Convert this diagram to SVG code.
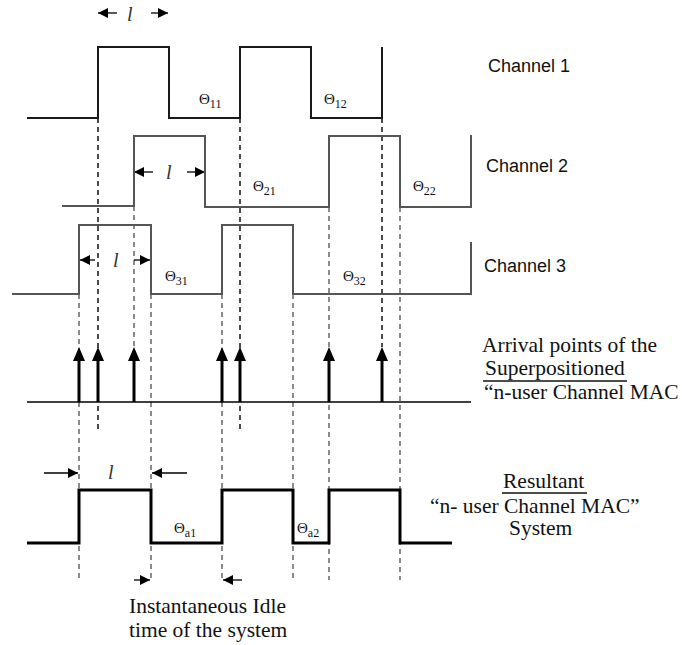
<svg xmlns="http://www.w3.org/2000/svg" width="682" height="645" viewBox="0 0 682 645">
<defs>
<style>
.sig1{fill:none;stroke:#1a1a1a;stroke-width:2}
.sig2{fill:none;stroke:#555;stroke-width:2}
.res{fill:none;stroke:#000;stroke-width:3}
.dk{fill:none;stroke:#111;stroke-width:1.5;stroke-dasharray:5 4}
.dg{fill:none;stroke:#666;stroke-width:1.5;stroke-dasharray:5 4}
.base{fill:none;stroke:#000;stroke-width:1.5}
.shaft{stroke:#000;stroke-width:3}
.ah{fill:#000}
.thin{stroke:#000;stroke-width:1.3}
.lab{font-family:"Liberation Sans",Arial,sans-serif;font-size:18px;fill:#111}
.ser{font-family:"Liberation Serif","Times New Roman",serif;font-size:21.5px;fill:#111}
.th{font-family:"Liberation Serif","Times New Roman",serif;font-size:15px;fill:#111}
.sub{font-size:12px}
.ell{font-family:"Liberation Serif","Times New Roman",serif;font-size:20px;font-style:italic;fill:#333}
</style>
<marker id="mh" viewBox="0 0 10 10" refX="10" refY="5" markerWidth="10" markerHeight="10" markerUnits="userSpaceOnUse" orient="auto">
<path d="M0,0 L10,5 L0,10 Z" fill="#000"/>
</marker>
</defs>
<rect width="682" height="645" fill="#fff"/>

<g id="connectors">
<path class="dk" d="M98,118 V433 M240,118 V433 M382,118 V347"/>
<path class="dg" d="M134,206 V347 M329,207 V580 M400,207 V580 M79,294 V580 M151,294 V580 M222,294 V580 M293,294 V580"/>
<g id="arrivals">
<line class="shaft" x1="79" y1="402" x2="79" y2="358"/>
<line class="shaft" x1="98" y1="402" x2="98" y2="358"/>
<line class="shaft" x1="134" y1="402" x2="134" y2="358"/>
<line class="shaft" x1="222" y1="402" x2="222" y2="358"/>
<line class="shaft" x1="240" y1="402" x2="240" y2="358"/>
<line class="shaft" x1="329" y1="402" x2="329" y2="358"/>
<line class="shaft" x1="382" y1="402" x2="382" y2="358"/>
<path class="ah" d="M79,347 l6,14 h-12 z M98,347 l6,14 h-12 z M134,347 l6,14 h-12 z M222,347 l6,14 h-12 z M240,347 l6,14 h-12 z M329,347 l6,14 h-12 z M382,347 l6,14 h-12 z"/>
</g>
<line class="thin" x1="117" y1="13" x2="98" y2="13" stroke-width="2" marker-end="url(#mh)"/>
<line class="thin" x1="151" y1="13" x2="168" y2="13" stroke-width="2" marker-end="url(#mh)"/>
<line class="thin" x1="153" y1="172" x2="134" y2="172" stroke-width="2" marker-end="url(#mh)"/>
<line class="thin" x1="187" y1="172" x2="205" y2="172" stroke-width="2" marker-end="url(#mh)"/>
<line class="thin" x1="95" y1="260" x2="80" y2="260" stroke-width="2" marker-end="url(#mh)"/>
<line class="thin" x1="134" y1="260" x2="150" y2="260" stroke-width="2" marker-end="url(#mh)"/>
<line class="thin" x1="44" y1="473" x2="78" y2="473" marker-end="url(#mh)"/>
<line class="thin" x1="187" y1="473" x2="152" y2="473" marker-end="url(#mh)"/>
<line class="thin" x1="134" y1="580" x2="150" y2="580" marker-end="url(#mh)"/>
<line class="thin" x1="242" y1="580" x2="223" y2="580" marker-end="url(#mh)"/>
</g>

<g id="channel1">
<path class="sig1" d="M27,118 H98 V47 H169 V118 H240 V47 H311 V118 H382 V47"/>
<text class="lab" x="488" y="72">Channel  1</text>
<text class="ell" x="127" y="21">l</text>
<text class="th" x="199" y="104">Θ<tspan class="sub" dy="4">11</tspan></text>
<text class="th" x="324" y="104">Θ<tspan class="sub" dy="4">12</tspan></text>
</g>

<g id="channel2">
<path class="sig2" d="M62,206 H134 V136 H205 V207 H329 V136 H400 V207 H471 V135"/>
<text class="lab" x="486" y="172">Channel  2</text>
<text class="ell" x="166" y="179">l</text>
<text class="th" x="253" y="191">Θ<tspan class="sub" dy="4">21</tspan></text>
<text class="th" x="413" y="191">Θ<tspan class="sub" dy="4">22</tspan></text>
</g>

<g id="channel3">
<path class="sig2" d="M12,294 H79 V225 H151 V294 H222 V225 H293 V294 H471 V242"/>
<text class="lab" x="484" y="272">Channel  3</text>
<text class="ell" x="113" y="267">l</text>
<text class="th" x="165" y="281">Θ<tspan class="sub" dy="4">31</tspan></text>
<text class="th" x="343" y="281">Θ<tspan class="sub" dy="4">32</tspan></text>
</g>

<g id="arrival-row">
<path class="base" d="M27,402 H471"/>
<text class="ser" x="482" y="352">Arrival points of the</text>
<text class="ser" x="485" y="375">Superpositioned</text>
<line x1="483" y1="381" x2="627" y2="381" stroke="#111" stroke-width="1.3"/>
<text class="ser" x="484" y="399">“n-user Channel MAC</text>
</g>

<g id="resultant">
<path class="res" d="M27,543 H79 V490 H151 V543 H222 V490 H293 V543 H329 V490 H400 V543 H452"/>
<text class="ell" x="108" y="479">l</text>
<text class="th" x="174" y="533">Θ<tspan class="sub" dy="4">a1</tspan></text>
<text class="th" x="297" y="533">Θ<tspan class="sub" dy="4">a2</tspan></text>
<text class="ser" x="503" y="488">Resultant</text>
<line x1="502" y1="493" x2="587" y2="493" stroke="#111" stroke-width="1.3"/>
<text class="ser" x="430" y="513">“n- user Channel MAC”</text>
<text class="ser" x="509" y="535">System</text>
</g>

<g id="idle-label">
<text class="ser" x="129" y="613">Instantaneous Idle</text>
<text class="ser" x="129" y="637">time of the system</text>
</g>
</svg>
